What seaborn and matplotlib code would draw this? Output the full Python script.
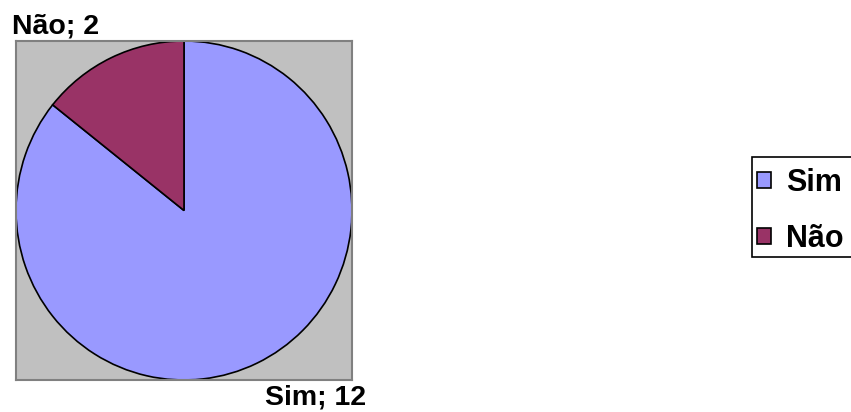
import seaborn as sns
import matplotlib.pyplot as plt
from matplotlib.patches import Rectangle

# Data
labels = ["Sim", "Não"]
values = [12, 2]
colors = ["#9999FF", "#993366"]

sns.set_style("white")
plt.rcParams['font.family'] = ['Liberation Sans', 'DejaVu Sans']
plt.rcParams['text.color'] = 'black'

fig = plt.figure(figsize=(8.51, 4.12), dpi=100)
W, H = 851, 412
ax = fig.add_axes([16 / W, (H - 380) / H, 336 / W, 339 / H])

wedges, _ = ax.pie(values, colors=colors, startangle=90, counterclock=False,
                   radius=1, frame=True,
                   wedgeprops=dict(edgecolor="black", linewidth=1.2))
ax.set_aspect("auto")
ax.set_xlim(-1.0, 1.0)
ax.set_ylim(-1.0, 1.0)
ax.set_xticks([])
ax.set_yticks([])
ax.set_facecolor("#C0C0C0")
for s in ax.spines.values():
    s.set_color("#808080")
    s.set_linewidth(1.5)

# Data labels (Excel style: "name; value")
ax.text(-0.012, 1.005, f"{labels[1]}; {values[1]}", transform=ax.transAxes,
        ha="left", va="bottom", fontsize=20.5, fontweight="bold", color="black")
ax.text(0.74, -0.012, f"{labels[0]}; {values[0]}", transform=ax.transAxes,
        ha="left", va="top", fontsize=20.5, fontweight="bold", color="black")

# legend box (runs off the right edge like the original)
fig.patches.append(Rectangle((752 / W, 1 - 257 / H), 120 / W, 100 / H,
                             transform=fig.transFigure, facecolor="white",
                             edgecolor="black", linewidth=1.2, zorder=0))
leg = fig.legend(wedges, labels, loc="upper left",
                 bbox_to_anchor=(757 / W, 1 - 168 / H),
                 prop=dict(weight="bold", size=22),
                 frameon=False,
                 handlelength=0.46, handleheight=0.46, handletextpad=0.5,
                 labelspacing=0.85, borderpad=0, borderaxespad=0)
for h in leg.legend_handles:
    h.set_linewidth(1.2)
for t in leg.get_texts():
    t.set_color("black")

fig.savefig("out.png", dpi=100)
